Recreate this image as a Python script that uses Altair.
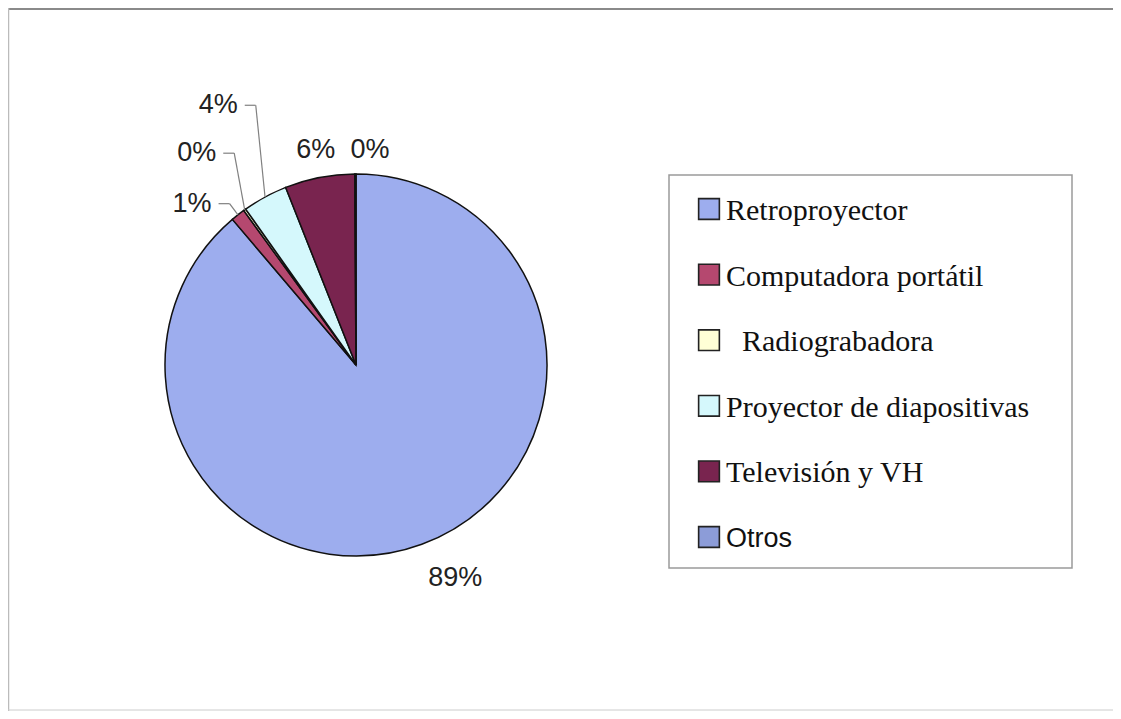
import altair as alt
import pandas as pd

# ---- data ----
categories = ["Retroproyector", "Computadora portátil", "Radiograbadora",
              "Proyector de diapositivas", "Televisión y VH", "Otros"]
values = [88.8, 1.2, 0.2, 3.8, 5.9, 0.1]

# ---- styling / layout ----
colors = ["#9DADEE", "#B5486F", "#FFFFD6", "#D5F8FC", "#79244F", "#8C9CD8"]
W, H = 1105, 703
CX, CY, R = 348, 357, 191
label_radius = [235, 230, 265, 294, 219, 215]
label_shift_deg = [-4.8, -7.3, -1.3, 0.5, 0.4, 3.9]
leader_on = [0, 1, 1, 1, 0, 0]

df = pd.DataFrame({"cat": categories, "value": values, "idx": list(range(len(values)))})
base = alt.Chart(df)

color = alt.Color("cat:N", scale=alt.Scale(domain=categories, range=colors), legend=None)
one = alt.Data(values=[{}])

# outer frame
frame_top = alt.Chart(one).mark_rule(color="#8a8a8a", strokeWidth=2).encode(
    x=alt.value(0), x2=alt.value(W), y=alt.value(1))
frame_left = alt.Chart(one).mark_rule(color="#bbbbbb", strokeWidth=1.5).encode(
    x=alt.value(0.5), y=alt.value(0), y2=alt.value(H))
frame_bottom = alt.Chart(one).mark_rule(color="#cccccc", strokeWidth=1).encode(
    x=alt.value(0), x2=alt.value(W), y=alt.value(H - 1))

# legend
legend_box = alt.Chart(one).mark_rect(fill="white", stroke="#9a9a9a", strokeWidth=1.5).encode(
    x=alt.value(661), x2=alt.value(1064), y=alt.value(167), y2=alt.value(560))
ly = alt.Y("cat:N", scale=alt.Scale(type="point", domain=categories, range=[201, 529], padding=0),
           axis=None)
legend_sq = base.mark_square(size=430, stroke="#222", strokeWidth=1.6, opacity=1).encode(
    x=alt.value(701), y=ly,
    fill=alt.Fill("cat:N", scale=alt.Scale(domain=categories, range=colors), legend=None))
legend_txt_serif = base.transform_filter(
    "datum.cat != 'Otros' && datum.cat != 'Radiograbadora'").mark_text(
    align="left", baseline="alphabetic", dy=11, font="Liberation Serif", fontSize=30, color="#111"
).encode(x=alt.value(718), y=ly, text="cat:N")
legend_txt_indent = base.transform_filter(alt.datum.cat == "Radiograbadora").mark_text(
    align="left", baseline="alphabetic", dy=11, font="Liberation Serif", fontSize=30, color="#111"
).encode(x=alt.value(734), y=ly, text="cat:N")
legend_txt_sans = base.transform_filter(alt.datum.cat == "Otros").mark_text(
    align="left", baseline="alphabetic", dy=10, font="Liberation Sans", fontSize=27, color="#111"
).encode(x=alt.value(718), y=ly, text="cat:N")

# pie
pie = base.mark_arc(outerRadius=R, stroke="#111", strokeWidth=1.5).encode(
    theta=alt.Theta("value:Q", stack=True),
    color=color,
    order=alt.Order("idx:Q"),
    x=alt.value(CX), y=alt.value(CY),
)

lr = "[" + ",".join(str(v) for v in label_radius) + "]"
ls = "[" + ",".join(str(v) for v in label_shift_deg) + "]"
lo = "[" + ",".join(str(v) for v in leader_on) + "]"

calc = base.transform_window(
    cum="sum(value)", sort=[alt.SortField("idx")], frame=[None, 0]
).transform_joinaggregate(
    total="sum(value)"
).transform_calculate(
    pct="datum.value / datum.total",
    mid="(datum.cum - datum.value / 2) / datum.total * 2 * PI",
).transform_calculate(
    la=f"datum.mid + {ls}[datum.idx] * PI / 180",
    lrad=f"{lr}[datum.idx]",
    lead=f"{lo}[datum.idx]",
).transform_calculate(
    lx=f"{CX} + datum.lrad * sin(datum.la)",
    lyy=f"{CY} - datum.lrad * cos(datum.la)",
    ex=f"{CX} + {R} * sin(datum.mid)",
    ey=f"{CY} - {R} * cos(datum.mid)",
).transform_calculate(
    s0="datum.lx + 26.5",
    s1="datum.lx + 37.5",
)

labels = calc.mark_text(font="Liberation Sans", fontSize=27, color="#222",
                        align="center", baseline="middle").encode(
    x=alt.X("lx:Q", scale=None), y=alt.Y("lyy:Q", scale=None),
    text=alt.Text("pct:Q", format=".0%"))

lead1 = calc.transform_filter("datum.lead == 1").mark_rule(color="#808080", strokeWidth=1.2).encode(
    x=alt.X("s0:Q", scale=None), x2="s1:Q", y=alt.Y("lyy:Q", scale=None), y2="lyy:Q")
lead2 = calc.transform_filter("datum.lead == 1").mark_rule(color="#808080", strokeWidth=1.2).encode(
    x=alt.X("s1:Q", scale=None), x2="ex:Q", y=alt.Y("lyy:Q", scale=None), y2="ey:Q")

chart = alt.layer(
    frame_top, frame_left, frame_bottom,
    legend_box, legend_sq, legend_txt_serif, legend_txt_indent, legend_txt_sans,
    pie, lead1, lead2, labels,
).properties(
    width=W, height=H, autosize="none", padding=0, background="white"
).resolve_scale(
    x="independent", y="independent"
).configure_view(stroke=None)

chart.save("out.html", embed_options={"renderer": "svg", "actions": False})
